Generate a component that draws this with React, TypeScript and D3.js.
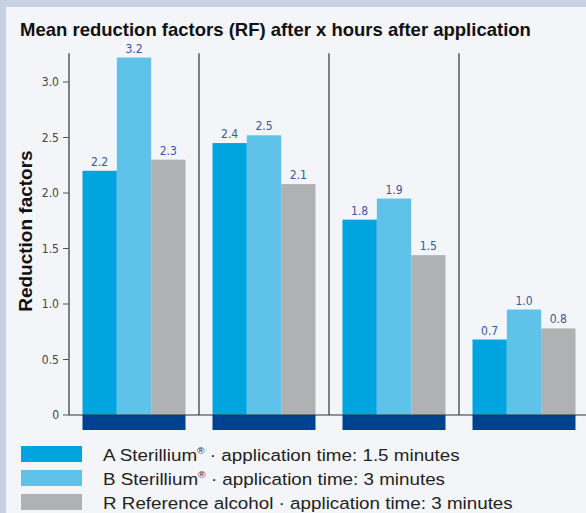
import React from 'react'
import * as d3 from 'd3'

// hours after application groups (unlabelled in the source chart)
const groups = ['g1', 'g2', 'g3', 'g4']
const seriesKeys = ['A', 'B', 'R']

// bar heights
const valuesA = [2.2, 2.45, 1.76, 0.68]
const valuesB = [3.22, 2.52, 1.95, 0.95]
const valuesR = [2.3, 2.08, 1.44, 0.78]

// printed labels above the bars
const labelsA = ['2.2', '2.4', '1.8', '0.7']
const labelsB = ['3.2', '2.5', '1.9', '1.0']
const labelsR = ['2.3', '2.1', '1.5', '0.8']

const yTicks = [0, 0.5, 1.0, 1.5, 2.0, 2.5, 3.0]

const legendLabels = [
    ['A Sterillium', true, ' · application time: 1.5 minutes'],
    ['B Sterillium', true, ' · application time: 3 minutes'],
    ['R Reference alcohol · application time: 3 minutes', false, ''],
]

const colors = ['#00a5df', '#5ec2e9', '#b0b1b3']
const narrow = "'Liberation Sans Narrow', 'DejaVu Sans Condensed', 'Arial Narrow', sans-serif"
const sans = "'Liberation Sans', Arial, Helvetica, sans-serif"

const App: React.FC = () => {
    const width = 586
    const height = 513

    const x0 = d3.scaleBand().domain(groups).range([69, 69 + 130 * 4])
    const x1 = d3.scaleBand().domain(seriesKeys).range([13.5, 116.5])
    const y = d3.scaleLinear().domain([0, 3]).range([415, 82])
    const yTop = y(3.26)

    const series = [
        { values: valuesA, labels: labelsA },
        { values: valuesB, labels: labelsB },
        { values: valuesR, labels: labelsR },
    ]

    return (
        <svg
            width={width}
            height={height}
            style={{ position: 'absolute', left: 0, top: 0, display: 'block' }}
        >
            <rect x={0} y={0} width={width} height={height} fill="#c6d2e2" />
            <rect x={6} y={7} width={width - 6} height={height - 7} fill="#f3f5f9" />

            <text x={20} y={36} fontFamily={sans} fontWeight="bold" fontSize={18.5} fill="#111">
                Mean reduction factors (RF) after x hours after application
            </text>

            {/* y axis title */}
            <text
                transform={`translate(32, ${(yTop + y(0)) / 2 - 3}) rotate(-90)`}
                textAnchor="middle"
                fontFamily={sans}
                fontWeight="bold"
                fontSize={19}
                fill="#111"
            >
                Reduction factors
            </text>

            {/* bars */}
            {groups.map((g, gi) => (
                <g key={g} transform={`translate(${x0(g)},0)`}>
                    {series.map((s, si) => {
                        const bx = x1(seriesKeys[si])!
                        const v = s.values[gi]
                        return (
                            <g key={si}>
                                <rect
                                    x={bx}
                                    y={y(v)}
                                    width={x1.bandwidth()}
                                    height={y(0) - y(v)}
                                    fill={colors[si]}
                                />
                                <text
                                    x={bx + x1.bandwidth() / 2}
                                    y={y(v) - 5}
                                    textAnchor="middle"
                                    fontFamily={narrow}
                                    fontSize={12}
                                    fill="#3a56a3"
                                >
                                    {s.labels[gi]}
                                </text>
                            </g>
                        )
                    })}
                    <rect
                        x={x1.range()[0]}
                        y={y(0)}
                        width={x1.range()[1] - x1.range()[0]}
                        height={15}
                        fill="#00428f"
                    />
                    {gi > 0 && (
                        <line
                            x1={0}
                            x2={0}
                            y1={yTop}
                            y2={y(0)}
                            stroke="#333"
                            strokeWidth={1.2}
                        />
                    )}
                </g>
            ))}

            {/* y axis */}
            <line x1={69} x2={69} y1={yTop} y2={y(0)} stroke="#333" strokeWidth={1.2} />
            <line x1={69} x2={width} y1={y(0)} y2={y(0)} stroke="#333" strokeWidth={1.2} />
            {yTicks.map((t) => (
                <g key={t}>
                    <line x1={63} x2={69} y1={y(t)} y2={y(t)} stroke="#555" strokeWidth={1} />
                    <text
                        x={59}
                        y={y(t)}
                        dy="0.35em"
                        textAnchor="end"
                        fontFamily={narrow}
                        fontSize={12}
                        fill="#444"
                    >
                        {t === 0 ? '0' : d3.format('.1f')(t)}
                    </text>
                </g>
            ))}

            {/* legend */}
            {legendLabels.map((l, i) => (
                <g key={i} transform={`translate(0, ${446 + i * 24})`}>
                    <rect x={21} y={0} width={61} height={16} fill={colors[i]} />
                    <text
                        transform="translate(103, 15) scale(1.14, 1)"
                        fontFamily={sans}
                        fontSize={16.5}
                        fill="#222"
                    >
                        {l[0]}
                        {l[1] && (
                            <tspan dy={-7} fontSize={9}>
                                ®
                            </tspan>
                        )}
                        {l[1] ? <tspan dy={7}>{l[2]}</tspan> : null}
                    </text>
                </g>
            ))}
        </svg>
    )
}

export default App
